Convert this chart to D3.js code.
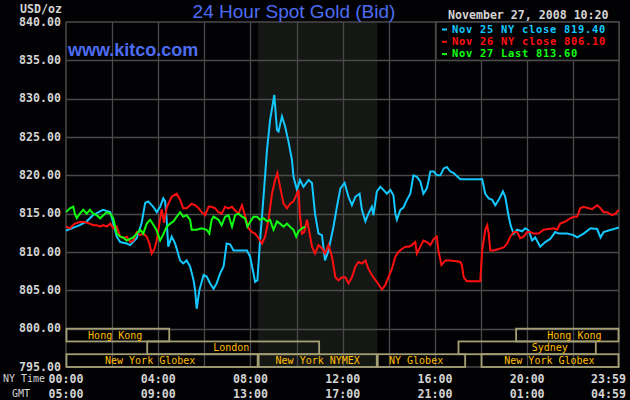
<!DOCTYPE html>
<html><head><meta charset="utf-8">
<script src="https://cdn.jsdelivr.net/npm/d3@7"></script>
<style>body{margin:0;background:#000;} svg{display:block}</style>
</head><body><svg id="c" width="630" height="400"></svg>
<script>
// ---- data ----
const priceTicks = [840,835,830,825,820,815,810,805,800,795];
const tickMinutes = [0,240,480,720,960,1200,1439];
const nyTimeLabels = ["00:00","04:00","08:00","12:00","16:00","20:00","23:59"];
const gmtLabels = ["05:00","09:00","13:00","17:00","21:00","01:00","04:59"];
const nymexHours = [500, 810]; // shaded NYMEX session (08:20 - 13:30)

const seriesNames = ["Nov 25 NY close 819.40","Nov 26 NY close 806.10","Nov 27 Last 813.60"];
const seriesColors = ["#14c8ff","#ff1010","#10ff10"];

// [minute of NY day, price]
const nov25 = [[0,812.8],[36,813.5],[54,814.0],[70,814.8],[96,815.5],[115,815.2],[122,814.0],[132,812.0],[141,811.3],[158,811.1],[167,810.9],[184,811.8],[197,813.8],[206,816.4],[214,816.6],[227,815.9],[236,815.2],[245,815.9],[253,817.0],[258,816.6],[262,814.2],[266,810.7],[275,812.0],[284,811.1],[297,808.9],[305,808.5],[314,808.9],[323,808.1],[332,806.3],[336,805.0],[340,802.6],[347,805.0],[358,807.0],[366,806.8],[375,805.9],[384,805.2],[392,805.9],[401,807.2],[410,808.1],[418,811.1],[427,811.0],[436,810.2],[453,810.2],[471,810.2],[479,809.4],[488,807.2],[492,806.1],[498,806.3],[505,811.5],[514,817.2],[523,823.3],[531,827.2],[542,830.5],[549,825.9],[553,825.7],[562,827.7],[570,826.4],[579,824.4],[588,822.0],[592,819.8],[601,818.1],[609,819.4],[618,818.5],[631,819.4],[640,819.0],[648,815.0],[657,812.4],[666,812.2],[674,808.9],[683,810.2],[696,813.3],[705,815.9],[714,818.3],[725,819.0],[735,817.2],[744,816.1],[753,817.2],[764,817.6],[770,815.5],[779,814.0],[787,815.0],[796,815.9],[800,814.8],[809,817.9],[818,818.5],[826,818.1],[835,817.6],[844,818.1],[852,817.4],[857,815.0],[861,814.2],[870,815.5],[878,815.8],[887,816.8],[896,817.6],[904,820.0],[913,819.8],[922,819.2],[930,817.6],[939,818.3],[943,819.2],[948,820.5],[957,820.5],[965,820.0],[974,820.0],[983,820.9],[991,821.1],[1000,820.5],[1009,820.3],[1017,819.9],[1026,819.5],[1083,819.5],[1091,817.6],[1100,817.0],[1109,816.8],[1117,816.1],[1126,816.8],[1137,817.9],[1143,817.2],[1152,814.6],[1158,813.3],[1165,812.4],[1174,812.9],[1187,812.7],[1195,813.1],[1204,812.8],[1213,811.5],[1221,811.9],[1234,810.7],[1247,811.3],[1260,811.7],[1273,812.6],[1282,812.4],[1304,812.4],[1321,812.2],[1330,811.9],[1347,812.4],[1365,813.1],[1382,813.0],[1391,811.9],[1399,812.6],[1412,812.8],[1439,813.2]];

const nov26 = [[0,813.3],[10,813.1],[23,813.7],[36,813.9],[49,813.9],[62,813.7],[71,813.5],[80,813.5],[89,813.3],[97,813.5],[106,813.3],[115,813.7],[123,813.1],[132,813.3],[141,812.0],[149,811.8],[158,812.0],[167,811.3],[175,811.5],[184,812.6],[193,812.2],[201,812.4],[210,812.0],[217,811.1],[223,809.8],[230,810.4],[236,811.5],[243,813.7],[249,815.6],[255,813.8],[262,815.8],[275,817.2],[288,817.6],[297,816.8],[305,815.7],[314,815.7],[327,816.3],[336,816.1],[345,815.7],[353,815.2],[362,814.8],[371,815.9],[379,815.9],[388,815.7],[397,815.2],[405,815.0],[414,815.9],[423,815.7],[432,815.9],[440,815.4],[449,815.0],[458,816.1],[462,815.4],[469,814.2],[475,813.1],[484,812.6],[492,812.4],[501,811.8],[510,811.1],[518,812.0],[527,814.2],[536,817.6],[544,819.4],[550,820.3],[557,818.5],[566,816.3],[575,815.7],[583,816.3],[592,816.6],[601,817.6],[605,818.1],[609,814.6],[614,812.4],[620,812.6],[627,814.2],[634,812.4],[640,810.7],[648,809.8],[657,810.9],[666,810.5],[674,809.8],[683,810.9],[692,809.4],[701,806.7],[709,806.3],[718,806.7],[727,806.7],[735,805.9],[744,806.7],[753,808.1],[761,808.7],[770,808.5],[779,808.9],[787,807.8],[796,807.0],[800,806.7],[809,806.1],[818,805.4],[822,805.1],[831,805.7],[839,806.7],[848,807.8],[857,809.4],[865,810.0],[874,810.4],[883,810.7],[892,810.7],[900,810.9],[909,811.3],[913,809.8],[922,810.7],[930,811.5],[939,811.3],[948,810.9],[957,811.7],[965,812.0],[969,810.2],[977,808.3],[987,808.9],[1000,808.9],[1017,808.8],[1026,808.7],[1030,808.3],[1035,806.7],[1043,806.2],[1061,806.2],[1078,806.2],[1083,810.2],[1091,812.9],[1096,813.5],[1100,812.4],[1104,810.2],[1113,810.2],[1126,810.4],[1139,810.6],[1148,811.1],[1156,812.0],[1165,812.6],[1174,812.6],[1182,811.8],[1191,812.0],[1200,812.6],[1208,812.6],[1217,812.4],[1230,812.4],[1243,812.9],[1256,813.0],[1269,813.1],[1278,812.9],[1286,813.7],[1300,814.0],[1312,814.4],[1321,814.6],[1330,814.6],[1338,815.7],[1347,815.9],[1360,815.7],[1369,815.6],[1382,816.1],[1391,815.7],[1399,815.2],[1408,815.2],[1421,814.8],[1430,815.0],[1438,815.5]];

const nov27 = [[0,815.2],[10,815.7],[19,815.9],[23,815.0],[28,814.4],[36,815.0],[45,815.5],[54,815.0],[62,815.5],[71,815.0],[80,814.8],[89,814.4],[97,814.8],[106,815.2],[115,815.0],[123,814.4],[132,812.4],[141,812.0],[149,811.9],[158,811.5],[167,811.7],[175,811.9],[184,812.4],[193,812.9],[201,812.4],[210,813.7],[219,814.2],[227,813.6],[236,812.8],[245,811.5],[253,812.3],[262,813.3],[271,813.7],[280,814.0],[288,814.6],[297,815.2],[305,814.6],[314,814.8],[323,814.2],[327,812.9],[340,812.9],[353,813.1],[366,812.9],[373,812.4],[379,814.2],[384,814.6],[397,814.2],[405,813.5],[414,814.6],[423,814.8],[432,813.3],[440,814.8],[449,815.0],[458,814.6],[466,814.4],[472,813.3],[479,813.9],[488,814.6],[497,814.6],[505,814.2],[514,814.4],[523,814.0],[531,814.2],[540,812.9],[549,814.0],[557,813.7],[566,813.3],[575,813.7],[583,813.3],[592,812.9],[599,812.0],[605,812.7],[614,813.1],[622,813.3]];

// market sessions
const sessionNames  = ["Hong Kong","Hong Kong","London","Sydney","New York Globex","New York NYMEX","NY Globex","New York Globex"];
const sessionRows   = [0,0,1,1,2,2,2,2];
const sessionStarts = [0,1170,210,1020,0,500,810,1080];
const sessionEnds   = [270,1439,660,1380,500,810,1040,1439];
const sessionLabelAt= [128,1323,430,1259,219,655,911,1258];

// ---- drawing ----
const svg = d3.select("#c");
const L = 66, R = 619, T = 22, B = 367;
const x = d3.scaleLinear().domain([0,1439]).range([L,R]);
const y = d3.scaleLinear().domain([795,840]).range([B,T]);
const mono = "'DejaVu Sans Mono', 'Liberation Mono', monospace";
const gridColor = "#4a4a4a";

svg.append("rect").attr("width",630).attr("height",400).attr("fill","#020204");

// shaded NYMEX area
svg.append("rect").attr("x",x(nymexHours[0])).attr("y",T)
  .attr("width",x(nymexHours[1])-x(nymexHours[0])).attr("height",B-T).attr("fill","#151715");

// grid
const gridTimes = d3.range(120,1440,120);
svg.append("g").selectAll("line").data(gridTimes).join("line")
  .attr("x1",d=>Math.round(x(d))+0.5).attr("x2",d=>Math.round(x(d))+0.5)
  .attr("y1",T).attr("y2",B).attr("stroke",gridColor).attr("stroke-width",1.3);
svg.append("g").selectAll("line").data(priceTicks.slice(1,-1)).join("line")
  .attr("x1",L).attr("x2",R)
  .attr("y1",d=>Math.round(y(d))+0.5).attr("y2",d=>Math.round(y(d))+0.5)
  .attr("stroke",gridColor).attr("stroke-width",1.3);
svg.append("rect").attr("x",L).attr("y",T).attr("width",R-L).attr("height",B-T)
  .attr("fill","none").attr("stroke",gridColor).attr("stroke-width",1.5);

// y axis labels
svg.append("g").selectAll("text").data(priceTicks).join("text")
  .attr("x",61).attr("y",d=>y(d)).attr("text-anchor","end").attr("dominant-baseline","middle")
  .attr("font-family",mono).attr("font-weight","bold").attr("font-size",11.6).attr("fill","#d4d4d4")
  .text(d=>d3.format(".2f")(d));
svg.append("text").attr("x",20).attr("y",9).attr("dominant-baseline","middle")
  .attr("font-family",mono).attr("font-weight","bold").attr("font-size",11.6).attr("fill","#d4d4d4").text("USD/oz");

// x axis labels
const xa = svg.append("g");
xa.selectAll("text.ny").data(tickMinutes).join("text").attr("class","ny")
  .attr("x",(d,i)=> i===tickMinutes.length-1 ? 626 : x(d))
  .attr("text-anchor",(d,i)=> i===tickMinutes.length-1 ? "end" : "middle")
  .attr("y",379).attr("dominant-baseline","middle")
  .attr("font-family",mono).attr("font-weight","bold").attr("font-size",11.6).attr("fill","#d4d4d4")
  .text((d,i)=>nyTimeLabels[i]);
xa.selectAll("text.gmt").data(tickMinutes).join("text").attr("class","gmt")
  .attr("x",(d,i)=> i===tickMinutes.length-1 ? 626 : x(d))
  .attr("text-anchor",(d,i)=> i===tickMinutes.length-1 ? "end" : "middle")
  .attr("y",394).attr("dominant-baseline","middle")
  .attr("font-family",mono).attr("font-weight","bold").attr("font-size",11.6).attr("fill","#d4d4d4")
  .text((d,i)=>gmtLabels[i]);
svg.append("text").attr("x",3).attr("y",379).attr("dominant-baseline","middle")
  .attr("font-family",mono).attr("font-size",10).attr("fill","#d4d4d4").text("NY Time");
svg.append("text").attr("x",12).attr("y",394).attr("dominant-baseline","middle")
  .attr("font-family",mono).attr("font-size",10).attr("fill","#d4d4d4").text("GMT");

// sessions
const rowH = (B - y(800)) / 3;
const sess = d3.range(sessionNames.length);
const sg = svg.append("g");
sg.selectAll("rect").data(sess).join("rect")
  .attr("x",i=>x(sessionStarts[i])+0.5).attr("y",i=>y(800)+rowH*sessionRows[i])
  .attr("width",i=>x(sessionEnds[i])-x(sessionStarts[i])-1).attr("height",rowH)
  .attr("fill","none").attr("stroke","#a49f74").attr("stroke-width",1.8);
sg.selectAll("text").data(sess).join("text")
  .attr("x",i=>x(sessionLabelAt[i])).attr("y",i=>y(800)+rowH*sessionRows[i]+rowH/2+0.5)
  .attr("text-anchor","middle").attr("dominant-baseline","middle")
  .attr("font-family",mono).attr("font-size",10).attr("fill","#ffbf00")
  .text(i=>sessionNames[i]);

// lines
const line = d3.line().x(d=>x(d[0])).y(d=>y(d[1]));
svg.append("clipPath").attr("id","pc").append("rect")
  .attr("x",L).attr("y",T).attr("width",R-L).attr("height",B-T);
const lg = svg.append("g").attr("clip-path","url(#pc)");
[nov25,nov26,nov27].forEach((s,i)=>{
  lg.append("path").datum(s).attr("d",line).attr("fill","none")
    .attr("stroke",seriesColors[i]).attr("stroke-width",2).attr("stroke-linejoin","miter");
});

// legend
svg.append("rect").attr("x",436).attr("y",T).attr("width",R-436).attr("height",y(835)-T)
  .attr("fill","#020204").attr("stroke",gridColor).attr("stroke-width",1.5);
const lgd = svg.append("g");
seriesNames.forEach((n,i)=>{
  const yy = 29.5 + i*12.3;
  lgd.append("rect").attr("x",442).attr("y",yy-1).attr("width",5).attr("height",2).attr("fill",seriesColors[i]);
  lgd.append("text").attr("x",452).attr("y",yy).attr("dominant-baseline","middle")
    .attr("font-family",mono).attr("font-weight","bold").attr("font-size",10.4)
    .attr("letter-spacing",0.74).attr("fill",seriesColors[i]).text(n);
});

// titles
svg.append("text").attr("x",294).attr("y",18).attr("text-anchor","middle")
  .attr("font-family","'Liberation Sans', Arial, sans-serif").attr("font-size",19).attr("fill","#4d6cf2")
  .text("24 Hour Spot Gold (Bid)");
svg.append("text").attr("x",68).attr("y",56)
  .attr("font-family","'Liberation Sans', Arial, sans-serif").attr("font-weight","bold").attr("font-size",18).attr("fill","#4d6cf2")
  .text("www.kitco.com");
svg.append("text").attr("x",448).attr("y",15).attr("dominant-baseline","middle")
  .attr("font-family",mono).attr("font-weight","bold").attr("font-size",11.6).attr("fill","#d4d4d4")
  .text("November 27, 2008 10:20");
</script></body></html>
